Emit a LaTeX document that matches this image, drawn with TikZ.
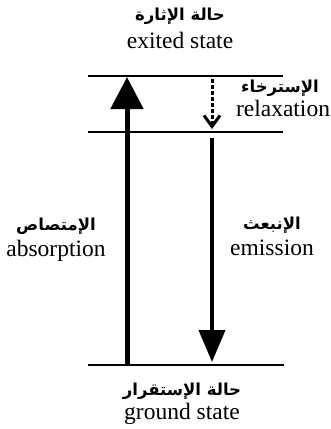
\documentclass[tikz,border=0pt]{standalone}
\usepackage{fontspec}
\setmainfont{Liberation Serif}
\newfontfamily\arabicfont[Script=Arabic]{DejaVu Sans}
\TeXXeTstate=1
\usetikzlibrary{positioning, arrows.meta}
\tikzset{
  level/.style={draw, line width=2pt},
  thin level/.style={draw, line width=1.2pt},
  en/.style={font=\fontsize{23.5}{26}\selectfont, inner sep=0pt},
  ar/.style={font=\arabicfont\bfseries\fontsize{16.5}{20}\selectfont, inner sep=0pt},
  up arrow/.style={draw, line width=5pt, -{Triangle[length=32pt, width=32pt]}},
  down arrow/.style={draw, line width=4pt, -{Triangle[length=32pt, width=26pt]}},
  relax arrow/.style={draw, line width=3pt, dash pattern=on 3.5pt off 2.5pt,
    -{Straight Barb[length=11pt, width=16pt, line width=3pt]}},
}

\begin{document}
\begin{tikzpicture}[x=1pt, y=-1pt]
  \useasboundingbox (0,0) rectangle (330,429);

  % niveaux
  \coordinate (exL) at (88,76);   \coordinate (exR) at (283,76);
  \coordinate (mdL) at (88,132);  \coordinate (mdR) at (283,132);
  \coordinate (grL) at (88,365);  \coordinate (grR) at (284,365);
  \path[level]      (exL) -- (exR);
  \path[thin level] (mdL) -- (mdR);
  \path[level]      (grL) -- (grR);

  % transitions
  \coordinate (absB) at (127,365); \coordinate (absT) at (127,77);
  \coordinate (emT)  at (212,138); \coordinate (emB)  at (212,362);
  \coordinate (rlT)  at (212,79);  \coordinate (rlB)  at (212,129);
  \path[up arrow]    (absB) -- (absT);
  \path[down arrow]  (emT)  -- (emB);
  \path[relax arrow] (rlT)  -- (rlB);

  % textes
  \node[ar] (exAr) at (180,16)  {\beginR حالة الإثارة\endR};
  \node[en, below=8pt of exAr] (exEn) {exited state};
  \node[ar] (rlAr) at (280,88)  {\beginR الإسترخاء\endR};
  \node[en, below=4pt of rlAr, xshift=3pt] (rlEn) {relaxation};
  \node[ar] (abAr) at (56,226)  {\beginR الإمتصاص\endR};
  \node[en, below=6pt of abAr] (abEn) {absorption};
  \node[ar] (emAr) at (272,225) {\beginR الإنبعث\endR};
  \node[en, below=6pt of emAr] (emEn) {emission};
  \node[ar] (grAr) at (182,391) {\beginR حالة الإستقرار\endR};
  \node[en, below=4pt of grAr] (grEn) {ground state};
\end{tikzpicture}
\end{document}
